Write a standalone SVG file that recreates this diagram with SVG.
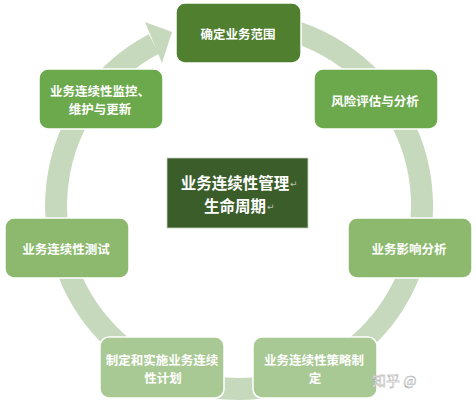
<svg xmlns="http://www.w3.org/2000/svg" width="476" height="403" viewBox="0 0 476 403">
<style>
.n{stroke:#ffffff;stroke-width:1.5}
.t{font-family:"Noto Sans CJK SC","Liberation Sans",sans-serif;font-size:12.5px;font-weight:bold;fill:#ffffff;text-anchor:middle;dominant-baseline:central}
.c{font-family:"Noto Sans CJK SC","Liberation Serif",serif;font-size:15.5px;font-weight:bold;fill:#ffffff;text-anchor:middle;dominant-baseline:central}
.pm{font-family:"DejaVu Sans",sans-serif;font-size:9px;fill:#b9c4b0}
</style>
<rect width="476" height="403" fill="#ffffff"/>
<g id="connectors">
<path d="M249.9 23.3 A183 183 0 1 1 153.9 44.0" fill="none" stroke="#c6d9bd" stroke-width="22"/>
<polygon points="145,22 172,32 162,63" fill="#c6d9bd"/>
</g>
<g id="n1"><rect class="n" x="176" y="3" width="125" height="60" rx="9" fill="#4f7f2f"/><text class="t" x="238" y="33">确定业务范围</text></g>
<g id="n2"><rect class="n" x="314" y="69" width="124" height="60" rx="9" fill="#6ca84c"/><text class="t" x="375" y="100">风险评估与分析</text></g>
<g id="n3"><rect class="n" x="348" y="218" width="124" height="60" rx="9" fill="#8cb96d"/><text class="t" x="409" y="248">业务影响分析</text></g>
<g id="n4"><rect class="n" x="253" y="337" width="124" height="61" rx="9" fill="#a9c994"/><text class="t" x="314" y="359">业务连续性策略制</text><text class="t" x="315" y="377">定</text></g>
<g id="n5"><rect class="n" x="100" y="337" width="124" height="61" rx="9" fill="#a9c994"/><text class="t" x="162" y="359">制定和实施业务连续</text><text class="t" x="163" y="377">性计划</text></g>
<g id="n6"><rect class="n" x="5" y="218" width="124" height="60" rx="9" fill="#8cb96d"/><text class="t" x="66" y="248">业务连续性测试</text></g>
<g id="n7"><rect class="n" x="39" y="69" width="124" height="60" rx="9" fill="#6ca84c"/><text class="t" x="100" y="90">业务连续性监控、</text><text class="t" x="100" y="108">维护与更新</text></g>
<g id="center"><rect x="167" y="158" width="141" height="70" fill="#3b5d2a" stroke="#c9d3c0" stroke-width="0.8"/><text class="c" x="235" y="182">业务连续性管理</text><text class="pm" x="290" y="187">↵</text><text class="c" x="235" y="205">生命周期</text><text class="pm" x="267" y="210">↵</text></g>
<text x="372" y="386" font-family="'Noto Sans CJK SC',sans-serif" font-size="14" fill="#ffffff" stroke="#9a9a9a" stroke-width="0.4">知乎 @</text>
</svg>
